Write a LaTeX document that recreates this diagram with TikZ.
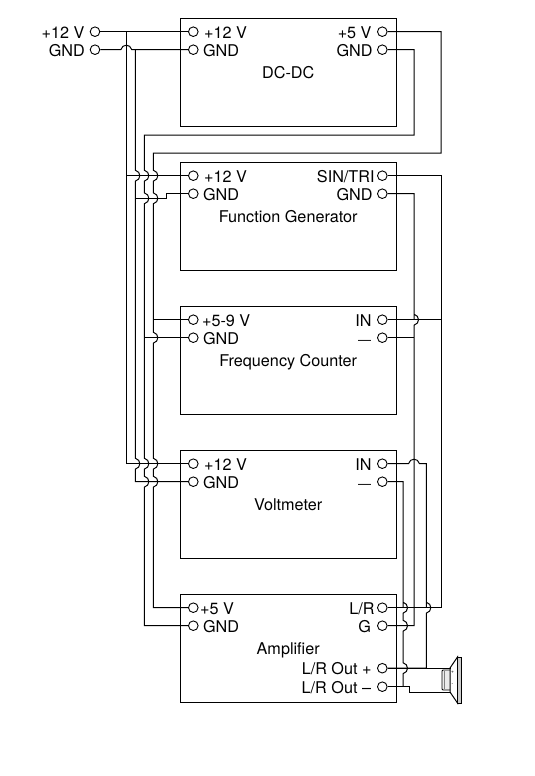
\documentclass[tikz,border=0pt]{standalone}
\usepackage{fontspec}
\setmainfont{TeX Gyre Heros}
\usetikzlibrary{calc,positioning}
\tikzset{
  blockbox/.style={draw, line width=1pt, minimum width=216pt, minimum height=108pt, inner sep=0pt, text height=13pt, text depth=0pt, font=\fontsize{16.2}{18}\selectfont},
  term/.style={draw, circle, line width=0.9pt, minimum size=9.6pt, inner sep=0pt},
  pinlabel/.style={inner sep=0pt, text height=13pt, text depth=0pt, font=\fontsize{16.2}{18}\selectfont},
  wire/.style={line width=1pt}
}
% bump of a rail (#1) over a row (#2)
\newcommand{\vhop}[2]{-- ($(#1 |- #2)+(0,-5.5)$) .. controls ($(#1 |- #2)+(6,-4)$) and ($(#1 |- #2)+(6,4)$) .. ($(#1 |- #2)+(0,5.5)$)}
% bump of a row (#2) over a rail (#1)
\newcommand{\hhop}[2]{-- ($(#1 |- #2)+(-5.5,0)$) .. controls ($(#1 |- #2)+(-4,-6)$) and ($(#1 |- #2)+(4,-6)$) .. ($(#1 |- #2)+(5.5,0)$)}
\begin{document}
\begin{tikzpicture}[x=1pt,y=-1pt]
  \useasboundingbox (0,0) rectangle (535,776);
  % Blocks
  \node[blockbox] (dcdc) at (288.2,72.3) {DC-DC};
  \node[blockbox] (fgen) at (288.2,216.3) {Function Generator};
  \node[blockbox] (fcnt) at (288.2,360.3) {Frequency Counter};
  \node[blockbox] (vmtr) at (288.2,504.3) {Voltmeter};
  \node[blockbox] (ampl) at (288.2,648.3) {Amplifier};
  % Supply input
  \node[term] (inv) at (95,31.7) {};
  \node[term] (ingnd) at (95,49.7) {};
  \node[pinlabel, left=5.2pt of inv] (invl) {+12 V};
  \node[pinlabel, left=4.7pt of ingnd] (ingndl) {GND};
  % DC-DC pins
  \node[term] (dcv) at (193.3,31.7) {};
  \node[term] (dcgnd) at (193.3,49.7) {};
  \node[term] (dcout) at (382.3,31.7) {};
  \node[term] (dcret) at (382.3,49.7) {};
  \node[pinlabel, right=5.3pt of dcv] (dcvl) {+12 V};
  \node[pinlabel, right=4.3pt of dcgnd] (dcgndl) {GND};
  \node[pinlabel, left=5.3pt of dcout] (dcoutl) {+5 V};
  \node[pinlabel, left=4.3pt of dcret] (dcretl) {GND};
  % Function generator pins
  \node[term] (fgv) at (193.3,175.7) {};
  \node[term] (fggnd) at (193.3,193.7) {};
  \node[term] (fgsin) at (382.3,175.7) {};
  \node[term] (fgret) at (382.3,193.7) {};
  \node[pinlabel, right=5.3pt of fgv] (fgvl) {+12 V};
  \node[pinlabel, right=4.3pt of fggnd] (fggndl) {GND};
  \node[pinlabel, left=2.3pt of fgsin] (fgsinl) {SIN/TRI};
  \node[pinlabel, left=4.3pt of fgret] (fgretl) {GND};
  % Frequency counter pins
  \node[term] (fcv) at (193.3,319.7) {};
  \node[term] (fcgnd) at (193.3,337.7) {};
  \node[term] (fcin) at (382.3,319.7) {};
  \node[term] (fcneg) at (382.3,337.7) {};
  \node[pinlabel, right=3.3pt of fcv] (fcvl) {+5-9 V};
  \node[pinlabel, right=4.3pt of fcgnd] (fcgndl) {GND};
  \node[pinlabel, left=5.3pt of fcin] (fcinl) {IN};
  \node[pinlabel, left=5.8pt of fcneg, font=\fontsize{13}{18}\selectfont] (fcnegl) {—};
  % Voltmeter pins
  \node[term] (vmv) at (193.3,463.7) {};
  \node[term] (vmgnd) at (193.3,481.7) {};
  \node[term] (vmin) at (382.3,463.7) {};
  \node[term] (vmneg) at (382.3,481.7) {};
  \node[pinlabel, right=5.3pt of vmv] (vmvl) {+12 V};
  \node[pinlabel, right=4.3pt of vmgnd] (vmgndl) {GND};
  \node[pinlabel, left=5.3pt of vmin] (vminl) {IN};
  \node[pinlabel, left=5.8pt of vmneg, font=\fontsize{13}{18}\selectfont] (vmnegl) {—};
  % Amplifier pins
  \node[term] (amv) at (193.3,607.7) {};
  \node[term] (amgnd) at (193.3,625.7) {};
  \node[term] (amlr) at (382.3,607.7) {};
  \node[term] (amg) at (382.3,625.7) {};
  \node[term] (ampos) at (382.3,668.2) {};
  \node[term] (amneg) at (382.3,686.7) {};
  \node[pinlabel, right=1.3pt of amv] (amvl) {+5 V};
  \node[pinlabel, right=4.3pt of amgnd] (amgndl) {GND};
  \node[pinlabel, left=2.3pt of amlr] (amlrl) {L/R};
  \node[pinlabel, left=5.8pt of amg] (amgl) {G};
  \node[pinlabel, left=5.3pt of ampos] (amposl) {L/R Out +};
  \node[pinlabel, left=5.8pt of amneg] (amnegl) {L/R Out –};
  % Rails and rows
  \coordinate (raila) at (126.3,0);
  \coordinate (railb) at (135.3,0);
  \coordinate (railc) at (144.3,0);
  \coordinate (raild) at (153.3,0);
  \coordinate (raile) at (403,0);
  \coordinate (railf) at (414,0);
  \coordinate (railg) at (426.3,0);
  \coordinate (railh) at (441,0);
  \coordinate (rowc) at (0,135.2);
  \coordinate (rowd) at (0,153.2);
  \coordinate (fgjog) at (166.3,198.3);
  \coordinate (spkjog) at (409,692);
  \coordinate (spkp) at (450.5,668.2);
  \coordinate (spkm) at (450.5,692);
  % +12 V feed
  \draw[wire] (inv) -- (dcv);
  \draw[wire] (raila |- inv) |- (vmv);
  \draw[wire] (raila |- fgv) -- (fgv);
  % GND feed
  \draw[wire] (ingnd) \hhop{raila}{ingnd} -- (dcgnd);
  \draw[wire] (railb |- ingnd) \vhop{railb}{fgv} \vhop{railb}{vmv} |- (vmgnd);
  \draw[wire] (railb |- fgjog) -- (fgjog) |- (fggnd);
  % DC-DC outputs
  \draw[wire] (dcret) -| (railf |- rowc) -- (railc |- rowc) \vhop{railc}{fgv} \vhop{railc}{fgjog} \vhop{railc}{vmv} \vhop{railc}{vmgnd} |- (amgnd);
  \draw[wire] (railc |- fcgnd) -- (fcgnd);
  \draw[wire] (dcout) -| (railh |- rowd) -- (raild |- rowd) \vhop{raild}{fgv} \vhop{raild}{fgjog} \vhop{raild}{fcgnd} \vhop{raild}{vmv} \vhop{raild}{vmgnd} |- (amv);
  \draw[wire] (raild |- fcv) -- (fcv);
  % Signal lines
  \draw[wire] (fgsin) -| (railh |- amlr) -- (amlr);
  \draw[wire] (fgret) -| (railf |- fcin) \vhop{railf}{fcin} |- (amg);
  \draw[wire] (fcin) -- (railh |- fcin);
  \draw[wire] (fcneg) -- (railf |- fcneg);
  \draw[wire] (vmin) \hhop{railf}{vmin} -| (railg |- amlr) \vhop{railg}{amlr} |- (ampos);
  \draw[wire] (ampos) -- (spkp);
  \draw[wire] (vmneg) -| (raile |- amlr) \vhop{raile}{amlr} \vhop{raile}{amg} \vhop{raile}{ampos} -- (raile |- amneg);
  \draw[wire] (amneg) -| (spkjog) -- (spkm);
  % Speaker
  \draw[line width=0.8pt, rounded corners=1pt, fill=black!8] (450,670) -- (442,670) -- (442,690) -- (450,690);
  \draw[line width=0.5pt, black!50] (444.5,671) -- (444.5,689);
  \draw[line width=1pt] (450,668) -- (457.5,657) -- (457.5,703) -- (450,692) -- cycle;
  \draw[line width=0.8pt, fill=black!20] (457.5,657) rectangle (461.5,703);
  \node[inner sep=0pt, font=\fontsize{5}{5}\selectfont] (spkplus) at (452.5,672) {+};
  \node[inner sep=0pt, font=\fontsize{5}{5}\selectfont] (spkminus) at (452.5,685) {-};
\end{tikzpicture}
\end{document}
